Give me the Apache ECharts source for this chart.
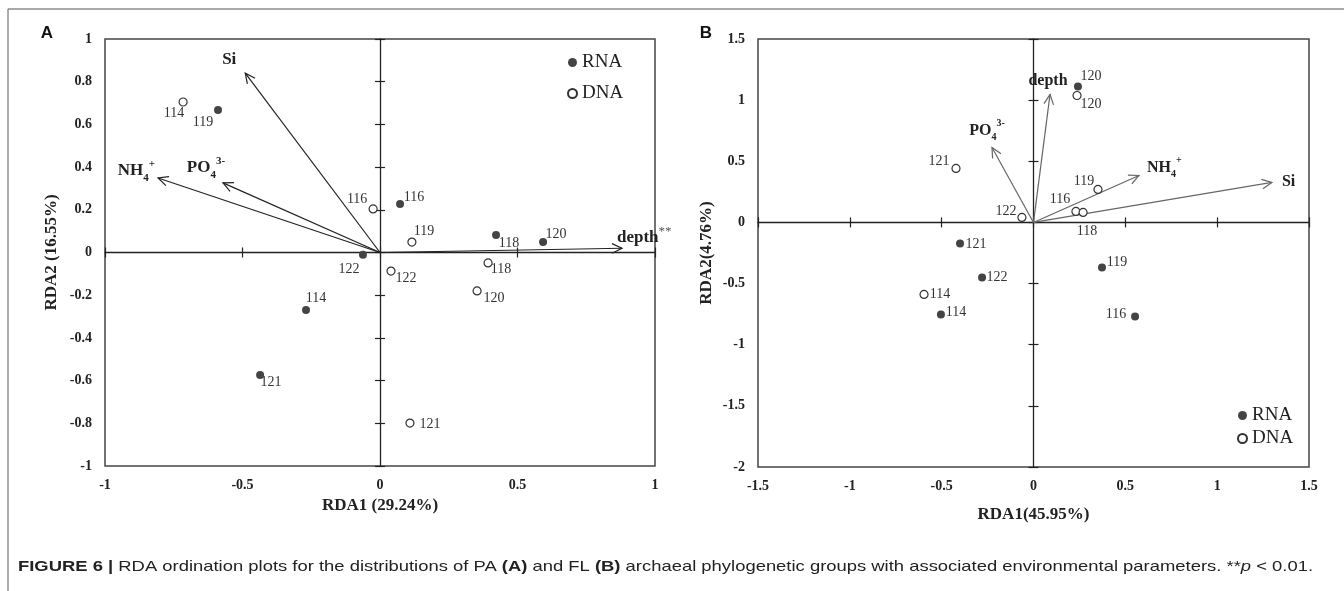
<!DOCTYPE html>
<html><head><meta charset="utf-8">
<script src="https://cdn.jsdelivr.net/npm/echarts@6/dist/echarts.min.js"></script>
<style>html,body{margin:0;padding:0;background:#fff}#c{width:1344px;height:591px}</style>
</head><body><div id="c"></div>
<script>
// ---------- Panel A (PA) ----------
const rnaA = [[-0.589,0.667,'119'],[0.073,0.227,'116'],[-0.062,-0.01,'122'],[-0.269,-0.269,'114'],[-0.436,-0.574,'121'],[0.422,0.082,'118'],[0.593,0.049,'120']];
const dnaA = [[-0.716,0.705,'114'],[-0.025,0.204,'116'],[0.116,0.049,'119'],[0.04,-0.087,'122'],[0.393,-0.049,'118'],[0.353,-0.18,'120'],[0.109,-0.799,'121']];
const envA = [[-0.49,0.84,'Si'],[-0.807,0.349,'NH4+'],[-0.571,0.326,'PO43-'],[0.88,0.02,'depth**']];
const xTicksA = {min:-1, max:1, interval:0.5};
const yTicksA = {min:-1, max:1, interval:0.2};
const xNameA = 'RDA1 (29.24%)';
const yNameA = 'RDA2 (16.55%)';

// ---------- Panel B (FL) ----------
const rnaB = [[0.242,1.112,'120'],[-0.40,-0.172,'121'],[-0.28,-0.45,'122'],[-0.504,-0.752,'114'],[0.373,-0.368,'119'],[0.553,-0.769,'116']];
const dnaB = [[0.237,1.038,'120'],[-0.422,0.442,'121'],[-0.063,0.041,'122'],[-0.596,-0.589,'114'],[0.351,0.27,'119'],[0.231,0.09,'116'],[0.27,0.082,'118']];
const envB = [[0.09,1.047,'depth'],[-0.226,0.613,'PO43-'],[0.574,0.384,'NH4+'],[1.298,0.327,'Si']];
const xTicksB = {min:-1.5, max:1.5, interval:0.5};
const yTicksB = {min:-2, max:1.5, interval:0.5};
const xNameB = 'RDA1(45.95%)';
const yNameB = 'RDA2(4.76%)';

const legendNames = ['RNA','DNA'];
const captionText = '{b|FIGURE 6 | }{r|RDA ordination plots for the distributions of PA }{b|(A)}{r| and FL }{b|(B)}{r| archaeal phylogenetic groups with associated environmental parameters. **}{i|p}{r| < 0.01.}';

// ---------- label placement (styling, pixel offsets) ----------
const offRnaA = [[-15,12],[14,-7],[-14,15],[10,-12],[11,7],[13,8],[13,-8]];
const offDnaA = [[-9,11],[-16,-10],[12,-11],[15,7],[13,6],[17,7],[20,1]];
const offRnaB = [[13,-10],[16,1],[15,0],[15,-2],[15,-5],[-19,-2]];
const offDnaB = [[14,9],[-17,-7],[-16,-6],[16,0],[-14,-8],[-16,-12],[4,19]];
const offEnvA = [[-16,-14,'center'],[-3,-7,'right'],[-17,-15,'center'],[-5,-11,'left']];
const offEnvB = [[-2,-14,'center'],[-5,-17,'center'],[8,-8,'left'],[10,-1,'left']];

const SERIF = '"Liberation Serif", "Times New Roman", serif';
const SANS = '"Liberation Sans", Arial, sans-serif';

function richName(n){
  if (n === 'NH4+') return '{b|NH}{sub|4}{sup|+}';
  if (n === 'PO43-') return '{b|PO}{sub|4}{sup|3-}';
  if (n === 'depth**') return '{b|depth}{star|**}';
  return '{b|' + n + '}';
}
function richStyles(fs){
  return {
    b:{fontSize:fs, fontWeight:'bold', fontFamily:SERIF, fill:'#222', lineHeight:fs+8, verticalAlign:'middle'},
    sub:{fontSize:Math.round(fs*0.62), fontWeight:'bold', fontFamily:SERIF, fill:'#222', lineHeight:10, verticalAlign:'bottom'},
    sup:{fontSize:Math.round(fs*0.62), fontWeight:'bold', fontFamily:SERIF, fill:'#222', lineHeight:10, verticalAlign:'top'},
    star:{fontSize:Math.round(fs*0.75), fontFamily:SERIF, fill:'#555', lineHeight:12, verticalAlign:'top'}
  };
}

function arrowSeries(env, offs, color, xi, yi, nameFs){
  return {
    type:'custom', coordinateSystem:'cartesian2d', xAxisIndex:xi, yAxisIndex:yi, silent:true, z:5,
    data: env.map(d => [d[0], d[1]]),
    renderItem: function(params, api){
      const o = api.coord([0,0]);
      const t = api.coord([api.value(0), api.value(1)]);
      const ang = Math.atan2(t[1]-o[1], t[0]-o[0]);
      const L = 11, a = 0.45;
      const p1 = [t[0]-L*Math.cos(ang-a), t[1]-L*Math.sin(ang-a)];
      const p2 = [t[0]-L*Math.cos(ang+a), t[1]-L*Math.sin(ang+a)];
      const i = params.dataIndex;
      const off = offs[i];
      return {type:'group', children:[
        {type:'line', shape:{x1:o[0],y1:o[1],x2:t[0],y2:t[1]}, style:{stroke:color, lineWidth:1.2}},
        {type:'polyline', shape:{points:[p1,t,p2]}, style:{stroke:color, fill:null, lineWidth:1.2}},
        {type:'text', x:t[0]+off[0], y:t[1]+off[1], style:{text:richName(env[i][2]), rich:richStyles(nameFs), align:off[2], verticalAlign:'middle'}}
      ]};
    }
  };
}

function scatterSeries(name, pts, offs, open, xi, yi){
  return {
    name:name, type:'scatter', xAxisIndex:xi, yAxisIndex:yi, symbol:'circle', symbolSize:8, z:6,
    itemStyle: open ? {color:'#fff', borderColor:'#333', borderWidth:1.2, opacity:1} : {color:'#444', borderColor:'#444', borderWidth:0, opacity:1},
    label:{show:true, position:'inside', color:'#333', fontFamily:SERIF, fontSize:14, formatter:p=>p.value[2]},
    data: pts.map((d,i) => ({value:[d[0],d[1],d[2]], label:{offset:offs[i]}}))
  };
}

const tickLabel = {fontFamily:SERIF, fontWeight:'bold', fontSize:14, color:'#222'};
const nameStyle = {fontFamily:SERIF, fontWeight:'bold', fontSize:17, color:'#222'};

function xAxes(grid, t, name, nameGap){
  return [
    {type:'value', gridIndex:grid, min:t.min, max:t.max, interval:t.interval, position:'bottom',
     axisLine:{show:false, onZero:false}, axisTick:{show:false}, splitLine:{show:false},
     axisLabel:Object.assign({margin:12}, tickLabel),
     name:name, nameLocation:'middle', nameGap:nameGap, nameTextStyle:nameStyle},
    {type:'value', gridIndex:grid, min:t.min, max:t.max, interval:t.interval, position:'bottom',
     axisLine:{show:true, onZero:true, lineStyle:{color:'#222', width:1.3}}, axisTick:{show:true, inside:true, length:5, lineStyle:{color:'#222', width:1.2}},
     axisLabel:{show:false}, splitLine:{show:false}},
    {type:'value', gridIndex:grid, min:t.min, max:t.max, interval:t.interval, position:'bottom',
     axisLine:{show:false, onZero:true}, axisTick:{show:true, inside:false, length:5, lineStyle:{color:'#222', width:1.2}},
     axisLabel:{show:false}, splitLine:{show:false}}
  ];
}
function yAxes(grid, t, name, nameGap){
  return [
    {type:'value', gridIndex:grid, min:t.min, max:t.max, interval:t.interval, position:'left',
     axisLine:{show:false, onZero:false}, axisTick:{show:false}, splitLine:{show:false},
     axisLabel:Object.assign({margin:13}, tickLabel),
     name:name, nameLocation:'middle', nameGap:nameGap, nameTextStyle:nameStyle},
    {type:'value', gridIndex:grid, min:t.min, max:t.max, interval:t.interval, position:'left',
     axisLine:{show:true, onZero:true, lineStyle:{color:'#222', width:1.3}}, axisTick:{show:true, inside:true, length:5, lineStyle:{color:'#222', width:1.2}},
     axisLabel:{show:false}, splitLine:{show:false}},
    {type:'value', gridIndex:grid, min:t.min, max:t.max, interval:t.interval, position:'left',
     axisLine:{show:false, onZero:true}, axisTick:{show:true, inside:false, length:5, lineStyle:{color:'#222', width:1.2}},
     axisLabel:{show:false}, splitLine:{show:false}}
  ];
}

const chart = echarts.init(document.getElementById('c'), null, {renderer:'canvas'});
const legendText = {fontFamily:SERIF, fontSize:19, color:'#222'};
chart.setOption({
  animation:false,
  backgroundColor:'#fff',
  grid:[
    {left:105, top:39, width:550, height:427, show:true, borderColor:'#444', borderWidth:1.5, backgroundColor:'transparent'},
    {left:758, top:39, width:551, height:428, show:true, borderColor:'#444', borderWidth:1.5, backgroundColor:'transparent'}
  ],
  xAxis: xAxes(0, xTicksA, xNameA, 21).concat(xAxes(1, xTicksB, xNameB, 39)),
  yAxis: yAxes(0, yTicksA, yNameA, 45).concat(yAxes(1, yTicksB, yNameB, 43)),
  legend:[
    {orient:'vertical', left:562, top:48, itemWidth:9, itemHeight:9, itemGap:12, icon:'circle', textStyle:legendText, data:legendNames, selectedMode:false},
    {orient:'vertical', left:1232, top:401, itemWidth:9, itemHeight:9, itemGap:4, icon:'circle', textStyle:legendText, data:legendNames, selectedMode:false}
  ],
  series:[
    arrowSeries(envA, offEnvA, '#222', 0, 0, 17),
    scatterSeries('RNA', rnaA, offRnaA, false, 0, 0),
    scatterSeries('DNA', dnaA, offDnaA, true, 0, 0),
    arrowSeries(envB, offEnvB, '#666', 3, 3, 16),
    scatterSeries('RNA', rnaB, offRnaB, false, 3, 3),
    scatterSeries('DNA', dnaB, offDnaB, true, 3, 3)
  ],
  graphic:[
    {type:'line', shape:{x1:8, y1:9, x2:1344, y2:9}, style:{stroke:'#555', lineWidth:1.2}, silent:true},
    {type:'line', shape:{x1:8, y1:9, x2:8, y2:591}, style:{stroke:'#777', lineWidth:1.2}, silent:true},
    {type:'text', x:47, y:33, style:{text:'A', font:'bold 17px ' + SANS, fill:'#111', align:'center', verticalAlign:'middle'}, silent:true},
    {type:'text', x:706, y:33, style:{text:'B', font:'bold 17px ' + SANS, fill:'#111', align:'center', verticalAlign:'middle'}, silent:true},
    {type:'text', x:18, y:567, scaleX:1.27, silent:true, style:{
      text:captionText,
      verticalAlign:'middle', align:'left',
      rich:{
        b:{fontFamily:SANS, fontWeight:'bold', fontSize:14.5, fill:'#222'},
        r:{fontFamily:SANS, fontSize:14.5, fill:'#222'},
        i:{fontFamily:SANS, fontStyle:'italic', fontSize:14.5, fill:'#222'}
      }}}
  ]
});
</script>
</body></html>
